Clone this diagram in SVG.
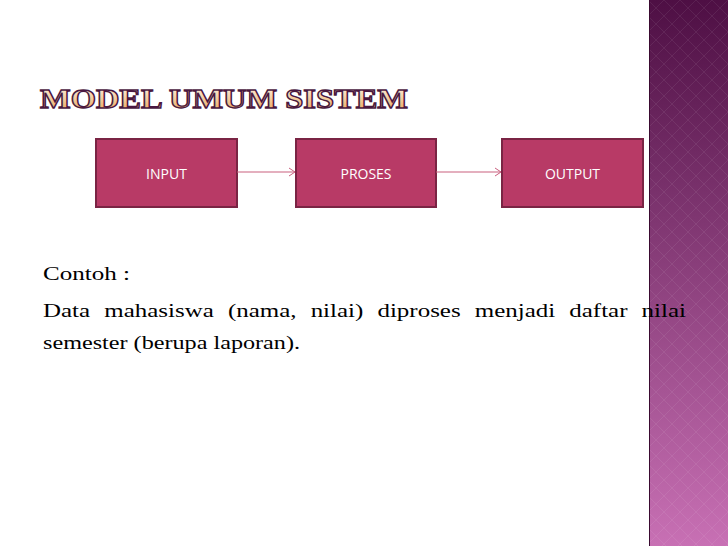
<svg xmlns="http://www.w3.org/2000/svg" width="728" height="546" viewBox="0 0 728 546">
<defs>
<linearGradient id="band" x1="0" y1="0" x2="0" y2="1"><stop offset="0" stop-color="#4e0f44"/><stop offset="1" stop-color="#c870b4"/></linearGradient>
<linearGradient id="tg" x1="0" y1="0" x2="0" y2="1"><stop offset="0" stop-color="#fff6ea"/><stop offset="1" stop-color="#e8a050"/></linearGradient>
<pattern id="dia" width="16" height="16" patternUnits="userSpaceOnUse"><path d="M8 0L16 8L8 16L0 8Z" fill="none" stroke="#ffffff" stroke-opacity="0.07" stroke-width="1"/></pattern>
<marker id="ar" markerWidth="10" markerHeight="10" refX="8" refY="5" orient="auto" markerUnits="userSpaceOnUse"><path d="M2 1L8 5L2 9" fill="none" stroke="#c9607f" stroke-width="1"/></marker>
</defs>
<style>
.box{fill:#b83a66;stroke:#7a2444;stroke-width:2}
.bt{font-family:"Open Sans","Liberation Sans",sans-serif;font-size:14px;fill:#fff;text-anchor:middle}
.body{font-family:"Liberation Serif",serif;font-size:19px;fill:#000}
.con{stroke:#c9607f;stroke-width:1.2;fill:none}
</style>
<rect width="728" height="546" fill="#fff"/>
<rect x="649" y="0" width="79" height="546" fill="url(#band)"/>
<rect x="649" y="0" width="79" height="546" fill="url(#dia)"/>
<line x1="649.5" y1="0" x2="649.5" y2="546" stroke="#3a0a30" stroke-width="1"/>
<text x="40" y="108" font-family="Liberation Serif,serif" font-weight="bold" font-size="27" textLength="368" lengthAdjust="spacingAndGlyphs" fill="url(#tg)" stroke="#4a1840" stroke-width="1.3">MODEL UMUM SISTEM</text>
<g id="input"><rect class="box" x="96" y="139" width="141" height="68"/><text class="bt" x="166.5" y="179">INPUT</text></g>
<g id="proses"><rect class="box" x="296" y="139" width="140" height="68"/><text class="bt" x="366" y="179">PROSES</text></g>
<g id="output"><rect class="box" x="502" y="139" width="141" height="68"/><text class="bt" x="572.5" y="179">OUTPUT</text></g>
<g id="connectors">
<line class="con" x1="237" y1="172" x2="295" y2="172" marker-end="url(#ar)"/>
<line class="con" x1="436" y1="172" x2="501" y2="172" marker-end="url(#ar)"/>
</g>
<text class="body" x="43" y="280" textLength="87" lengthAdjust="spacingAndGlyphs">Contoh :</text>
<text class="body" x="43" y="317" textLength="643" lengthAdjust="spacingAndGlyphs" word-spacing="6">Data mahasiswa (nama, nilai) diproses menjadi daftar nilai</text>
<text class="body" x="43" y="349" textLength="257" lengthAdjust="spacingAndGlyphs">semester (berupa laporan).</text>
</svg>
